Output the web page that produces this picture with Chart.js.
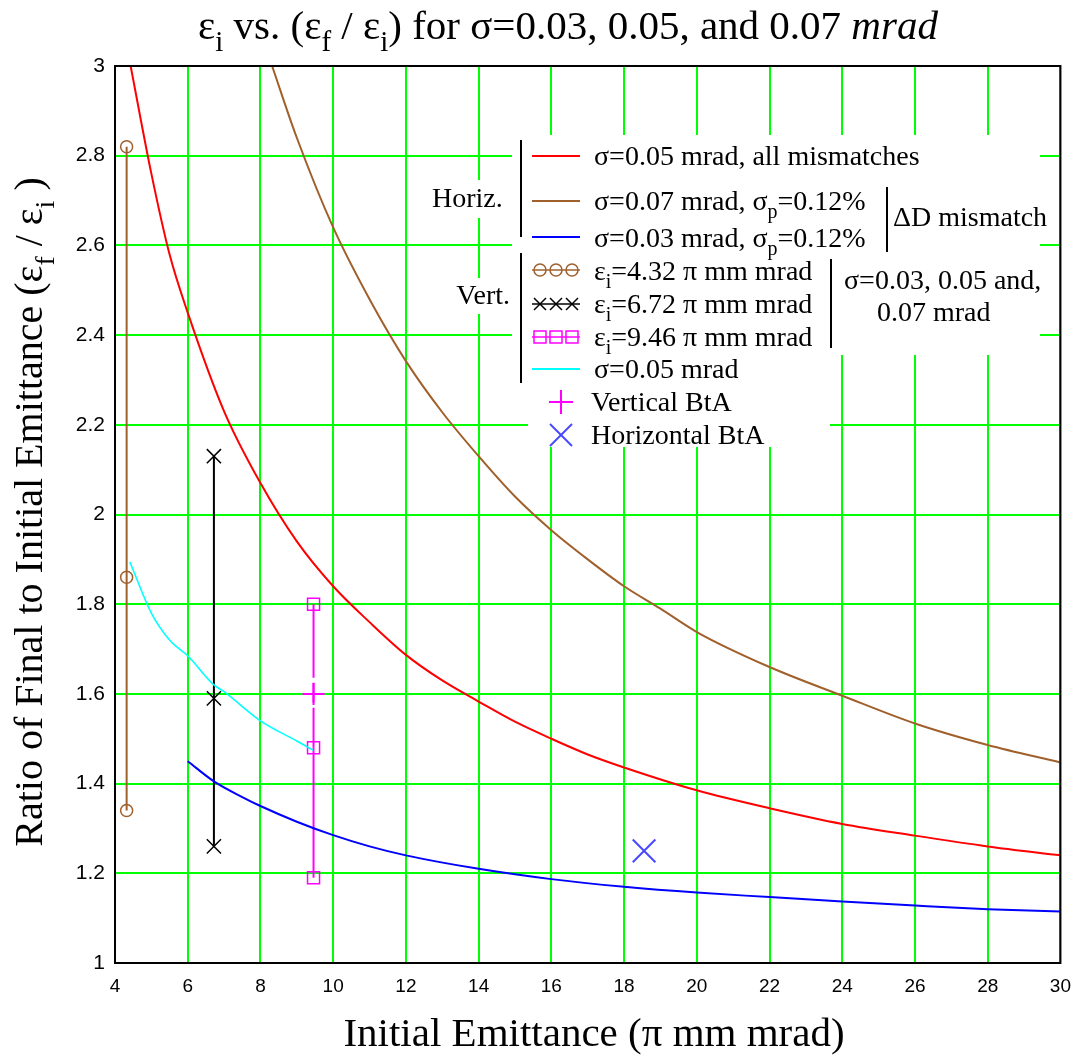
<!DOCTYPE html>
<html>
<head>
<meta charset="utf-8">
<script src="https://cdn.jsdelivr.net/npm/chart.js@4.4.1/dist/chart.umd.min.js"></script>
<style>
  body { margin: 0; background: #fff; }
  canvas { display: block; }
</style>
</head>
<body>
<canvas id="chart" width="1083" height="1061"></canvas>
<script>
// --- data ---
const xTicks = [4, 6, 8, 10, 12, 14, 16, 18, 20, 22, 24, 26, 28, 30];
const yTicks = [1, 1.2, 1.4, 1.6, 1.8, 2, 2.2, 2.4, 2.6, 2.8, 3];

// horizontal, sigma=0.05 mrad, all mismatches
const redX = [4.43, 5, 5.5, 6, 7, 8, 9, 10, 11, 12, 13, 14, 15, 16, 17, 18, 20, 22, 24, 26, 28, 30];
const redY = [3.0, 2.76, 2.58, 2.45, 2.23, 2.07, 1.94, 1.84, 1.76, 1.687, 1.63, 1.583, 1.538, 1.5, 1.465, 1.436, 1.385, 1.345, 1.31, 1.284, 1.26, 1.24];

// horizontal, sigma=0.07 mrad, sigma_p=0.12%
const brownX = [8.32, 9, 10, 11, 12, 13, 14, 15, 16, 17, 18, 19, 20, 22, 24, 26, 28, 30];
const brownY = [3.0, 2.84, 2.64, 2.48, 2.342, 2.228, 2.13, 2.04, 1.965, 1.9, 1.84, 1.79, 1.738, 1.66, 1.596, 1.534, 1.486, 1.447];

// horizontal, sigma=0.03 mrad, sigma_p=0.12%
const blueX = [6, 6.72, 7.5, 8, 9, 10, 11, 12, 14, 16, 18, 20, 22, 24, 26, 28, 30];
const blueY = [1.45, 1.405, 1.37, 1.35, 1.315, 1.285, 1.26, 1.24, 1.21, 1.187, 1.17, 1.157, 1.147, 1.137, 1.128, 1.12, 1.115];

// vertical, sigma=0.05 mrad
const cyanX = [4.41, 5, 5.5, 6, 6.72, 7, 8, 9, 9.46];
const cyanY = [1.894, 1.78, 1.72, 1.685, 1.62, 1.605, 1.54, 1.495, 1.474];

// vertical, sigma = 0.03 / 0.05 / 0.07 at fixed initial emittance
const vertEmit = [4.32, 6.72, 9.46];
const vert432Y = [1.34, 1.86, 2.82];
const vert672Y = [1.26, 1.59, 2.13];
const vert946Y = [1.19, 1.48, 1.80];

// beam-to-accelerator points
const vertBtA = [9.46, 1.60];
const horizBtA = [18.55, 1.25];

const BROWN = '#a0602c';
const SERIF = '"Liberation Serif", "Times New Roman", serif';

const pts = (xs, ys) => xs.map((x, i) => ({ x: x, y: ys[i] }));
const vpts = (x, ys) => ys.map(y => ({ x: x, y: y }));

function curve(data, color, w) {
  return {
    data: data, showLine: true, borderColor: color, borderWidth: w,
    pointRadius: 0, cubicInterpolationMode: 'monotone', fill: false
  };
}

function vline(data, color, style, r) {
  return {
    data: data, showLine: true, borderColor: color, borderWidth: 2,
    pointStyle: style, pointRadius: r, pointBorderColor: color,
    pointBackgroundColor: 'rgba(0,0,0,0)', pointBorderWidth: 1.5, tension: 0
  };
}

// text with subscripts / italics: parts = [[text, kind]], kind '' | 's' | 'it'
function drawRich(ctx, parts, x, y, size, align) {
  const fontFor = k => (k === 'it' ? 'italic ' : '') + (k === 's' ? Math.round(size * 0.7) : size) + 'px ' + SERIF;
  let w = 0;
  parts.forEach(p => { ctx.font = fontFor(p[1]); w += ctx.measureText(p[0]).width; });
  let cx = align === 'center' ? x - w / 2 : (align === 'right' ? x - w : x);
  ctx.textAlign = 'left';
  ctx.textBaseline = 'alphabetic';
  parts.forEach(p => {
    ctx.font = fontFor(p[1]);
    ctx.fillText(p[0], cx, y + (p[1] === 's' ? size * 0.3 : 0));
    cx += ctx.measureText(p[0]).width;
  });
}

function seg(ctx, x1, y1, x2, y2, color, w) {
  ctx.strokeStyle = color; ctx.lineWidth = w;
  ctx.beginPath(); ctx.moveTo(x1, y1); ctx.lineTo(x2, y2); ctx.stroke();
}

const decorations = {
  id: 'decorations',
  beforeDatasetsDraw(chart) {
    // white boxes behind the legend block (grid is hidden there)
    const ctx = chart.ctx;
    ctx.save();
    ctx.fillStyle = '#fff';
    ctx.fillRect(430, 180, 82, 38);
    ctx.fillRect(455, 278, 57, 36);
    ctx.fillRect(512, 135, 528, 220);
    ctx.fillRect(512, 355, 318, 60);
    ctx.fillRect(528, 415, 302, 32);
    ctx.restore();
  },
  afterDraw(chart) {
    const ctx = chart.ctx;
    const a = chart.chartArea;
    ctx.save();
    ctx.strokeStyle = '#000';
    ctx.lineWidth = 2;
    ctx.strokeRect(a.left, a.top, a.right - a.left, a.bottom - a.top);

    ctx.fillStyle = '#000';
    // title
    drawRich(ctx, [['ε', ''], ['i', 's'], [' vs. (ε', ''], ['f', 's'], [' / ε', ''], ['i', 's'],
      [') for σ=0.03, 0.05, and 0.07 ', ''], ['mrad', 'it']], 568, 39, 41, 'center');
    // x axis title
    drawRich(ctx, [['Initial Emittance (π mm mrad)', '']], 594, 1046, 41, 'center');
    // y axis title
    ctx.save();
    ctx.translate(0, 512);
    ctx.rotate(-Math.PI / 2);
    drawRich(ctx, [['Ratio of Final to Initial Emittance (ε', ''], ['f', 's'], [' / ε', ''], ['i', 's'], [' )', '']],
      0, 42, 40, 'center');
    ctx.restore();

    // legend block
    const fs = 28, off = 9;
    const L1 = 532, L2 = 580, TX = 594;
    drawRich(ctx, [['Horiz.', '']], 432, 198 + off, fs, 'left');
    drawRich(ctx, [['Vert.', '']], 510, 295 + off, fs, 'right');
    seg(ctx, 521, 140, 521, 237, '#000', 2);
    seg(ctx, 887, 187, 887, 252, '#000', 2);
    seg(ctx, 521, 253, 521, 383, '#000', 2);
    seg(ctx, 831, 259, 831, 348, '#000', 2);

    seg(ctx, L1, 156, L2, 156, '#ff0000', 2);
    drawRich(ctx, [['σ=0.05 mrad, all mismatches', '']], TX, 156 + off, fs, 'left');
    seg(ctx, L1, 201, L2, 201, BROWN, 2);
    drawRich(ctx, [['σ=0.07 mrad, σ', ''], ['p', 's'], ['=0.12%', '']], TX, 201 + off, fs, 'left');
    seg(ctx, L1, 237, L2, 237, '#0000ff', 2);
    drawRich(ctx, [['σ=0.03 mrad, σ', ''], ['p', 's'], ['=0.12%', '']], TX, 238 + off, fs, 'left');
    drawRich(ctx, [['ΔD mismatch', '']], 893, 217 + off, fs, 'left');

    // vertical rows with symbol samples
    const sx = [540, 556, 572];
    seg(ctx, L1, 270, L2, 270, BROWN, 1.5);
    sx.forEach(x => { ctx.strokeStyle = BROWN; ctx.lineWidth = 1.5; ctx.beginPath(); ctx.arc(x, 270, 6, 0, Math.PI * 2); ctx.stroke(); });
    drawRich(ctx, [['ε', ''], ['i', 's'], ['=4.32 π mm mrad', '']], TX, 271 + off, fs, 'left');
    seg(ctx, L1, 304, L2, 304, '#000', 1.5);
    sx.forEach(x => { seg(ctx, x - 6, 298, x + 6, 310, '#000', 1.5); seg(ctx, x - 6, 310, x + 6, 298, '#000', 1.5); });
    drawRich(ctx, [['ε', ''], ['i', 's'], ['=6.72 π mm mrad', '']], TX, 304 + off, fs, 'left');
    seg(ctx, L1, 337, L2, 337, '#ff00ff', 1.5);
    sx.forEach(x => { ctx.strokeStyle = '#ff00ff'; ctx.lineWidth = 1.5; ctx.strokeRect(x - 6, 331, 12, 12); });
    drawRich(ctx, [['ε', ''], ['i', 's'], ['=9.46 π mm mrad', '']], TX, 337 + off, fs, 'left');
    seg(ctx, L1, 369, L2, 369, '#00ffff', 2);
    drawRich(ctx, [['σ=0.05 mrad', '']], TX, 369 + off, fs, 'left');
    drawRich(ctx, [['σ=0.03, 0.05 and,', '']], 844, 280 + off, fs, 'left');
    drawRich(ctx, [['0.07 mrad', '']], 877, 312 + off, fs, 'left');

    seg(ctx, 549, 402, 573, 402, '#ff00ff', 2);
    seg(ctx, 561, 390, 561, 414, '#ff00ff', 2);
    drawRich(ctx, [['Vertical BtA', '']], 591, 402 + off, fs, 'left');
    seg(ctx, 550, 424, 572, 446, '#4848ff', 2);
    seg(ctx, 550, 446, 572, 424, '#4848ff', 2);
    drawRich(ctx, [['Horizontal BtA', '']], 591, 435 + off, fs, 'left');
    ctx.restore();
  }
};

const magenta = vline(vpts(vertEmit[2], vert946Y), '#ff00ff', 'rect', 8.5);
magenta.segment = {
  borderDash: c => (c.p0DataIndex === 1 ? [40, 5, 20, 5, 300] : [])
};

new Chart(document.getElementById('chart'), {
  type: 'scatter',
  data: {
    datasets: [
      curve(pts(redX, redY), '#ff0000', 2),
      curve(pts(brownX, brownY), BROWN, 2),
      curve(pts(blueX, blueY), '#0000ff', 2),
      curve(pts(cyanX, cyanY), '#00ffff', 1.6),
      vline(vpts(vertEmit[0], vert432Y), BROWN, 'circle', 6),
      vline(vpts(vertEmit[1], vert672Y), '#000000', 'crossRot', 10),
      magenta,
      { data: [{ x: vertBtA[0], y: vertBtA[1] }], pointStyle: 'cross', pointRadius: 11,
        pointBorderColor: '#ff00ff', pointBorderWidth: 2 },
      { data: [{ x: horizBtA[0], y: horizBtA[1] }], pointStyle: 'crossRot', pointRadius: 16,
        pointBorderColor: '#4848ff', pointBorderWidth: 2 }
    ]
  },
  options: {
    responsive: false,
    animation: false,
    events: [],
    layout: { padding: { left: 0, right: 18, top: 66, bottom: 0 } },
    plugins: { legend: { display: false }, title: { display: false }, tooltip: { enabled: false } },
    scales: {
      x: {
        type: 'linear', min: 4, max: 30,
        afterFit: s => { s.height = 98; },
        afterBuildTicks: s => { s.ticks = xTicks.map(v => ({ value: v })); },
        grid: { color: '#00ff00', lineWidth: 2, drawTicks: false },
        border: { display: true, color: '#000', width: 2 },
        ticks: { padding: 12, color: '#000', font: { family: '"Liberation Sans", Arial, sans-serif', size: 19 },
                 maxRotation: 0, callback: v => String(v) }
      },
      y: {
        type: 'linear', min: 1, max: 3,
        afterFit: s => { s.width = 115; },
        afterBuildTicks: s => { s.ticks = yTicks.map(v => ({ value: v })); },
        grid: { color: '#00ff00', lineWidth: 2, drawTicks: false },
        border: { display: true, color: '#000', width: 2 },
        ticks: { padding: 10, color: '#000', font: { family: '"Liberation Sans", Arial, sans-serif', size: 21 },
                 callback: v => String(Number(v.toFixed(1))) }
      }
    }
  },
  plugins: [decorations]
});
</script>
</body>
</html>
